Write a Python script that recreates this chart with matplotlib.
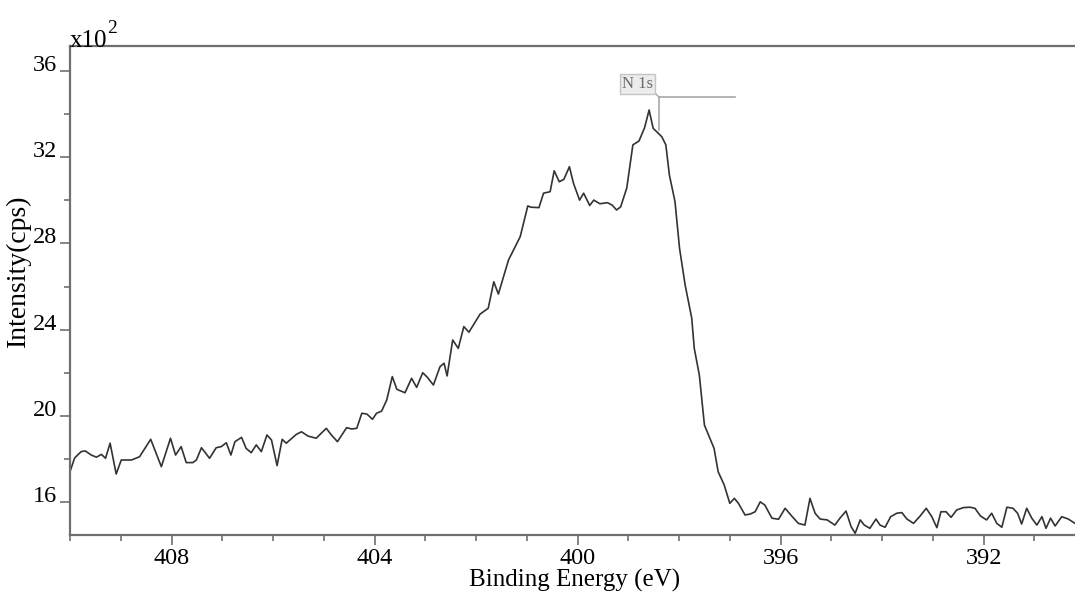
import matplotlib
matplotlib.use("Agg")
import matplotlib.pyplot as plt
from matplotlib.ticker import MultipleLocator, FuncFormatter

# ---- data (binding energy in eV, intensity in cps) ----
energy = [
    410.00, 409.91, 409.78, 409.70, 409.58, 409.48, 409.38, 409.30, 409.21, 409.09,
    408.99, 408.79, 408.63, 408.41, 408.20, 408.02, 407.92, 407.81, 407.71, 407.58,
    407.51, 407.41, 407.25, 407.12, 407.02, 406.92, 406.83, 406.75, 406.62, 406.53,
    406.43, 406.33, 406.23, 406.12, 406.03, 405.92, 405.82, 405.74, 405.54, 405.44,
    405.31, 405.15, 404.95, 404.85, 404.73,
    404.55, 404.45, 404.35, 404.25, 404.15, 404.04, 403.96, 403.86, 403.76, 403.65,
    403.56, 403.40, 403.27, 403.17, 403.05, 402.96, 402.84, 402.71, 402.63, 402.57,
    402.46, 402.35, 402.24, 402.14, 401.92, 401.76, 401.65, 401.56, 401.36, 401.13,
    400.98, 400.92, 400.76, 400.67, 400.54, 400.46, 400.36, 400.27, 400.16, 400.08,
    399.96, 399.88, 399.76, 399.68, 399.56, 399.41, 399.32, 399.23, 399.15, 399.03,
    398.91, 398.79, 398.68, 398.59, 398.51, 398.44, 398.34, 398.26, 398.19, 398.08,
    397.99, 397.88, 397.75, 397.70, 397.60, 397.50, 397.42, 397.31, 397.23, 397.11,
    397.00, 396.91, 396.83, 396.70, 396.60, 396.50, 396.40, 396.31, 396.17, 396.04,
    395.91, 395.78, 395.65, 395.52, 395.42, 395.32, 395.22, 395.08, 394.93, 394.83,
    394.71, 394.61, 394.53, 394.43, 394.35, 394.24, 394.12, 394.04, 393.94, 393.83,
    393.71, 393.61, 393.51, 393.38, 393.25, 393.13, 393.02, 392.92, 392.84, 392.74,
    392.64, 392.53, 392.40, 392.27, 392.17, 392.06, 391.94, 391.84, 391.74, 391.64,
    391.54, 391.42, 391.33, 391.25, 391.15, 391.05, 390.95, 390.85, 390.77, 390.68,
    390.59, 390.46, 390.33, 390.20,
]
intensity = [
    1741, 1804, 1834, 1837, 1818, 1808, 1821, 1803, 1873, 1730,
    1795, 1795, 1810, 1891, 1764, 1896, 1818, 1857, 1783, 1783,
    1795, 1852, 1803, 1852, 1857, 1875, 1818, 1880, 1900, 1849,
    1829, 1865, 1834, 1911, 1888, 1769, 1891, 1873, 1914, 1926,
    1906, 1896, 1942, 1911, 1880,
    1945, 1939, 1942, 2012, 2008, 1984, 2012, 2022, 2073, 2182,
    2123, 2107, 2174, 2132, 2200, 2179, 2143, 2228, 2244, 2185,
    2352, 2313, 2414, 2388, 2472, 2499, 2622, 2565, 2723, 2831,
    2974, 2968, 2966, 3033, 3040, 3137, 3086, 3097, 3156, 3079,
    3001, 3033, 2976, 3001, 2984, 2989, 2978, 2955, 2970, 3057,
    3257, 3275, 3336, 3419, 3334, 3318, 3295, 3257, 3117, 2994,
    2777, 2607, 2453, 2313, 2189, 1957, 1911, 1849, 1741, 1679,
    1594, 1617, 1594, 1540, 1544, 1555, 1601, 1586, 1525, 1520,
    1571, 1535, 1501, 1493, 1617, 1548, 1521, 1517, 1493, 1525,
    1558, 1486, 1455, 1517, 1493, 1478, 1521, 1493, 1483, 1532,
    1548, 1551, 1521, 1501, 1535, 1571, 1532, 1481, 1555, 1555,
    1529, 1563, 1574, 1576, 1571, 1535, 1517, 1548, 1501, 1483,
    1576, 1571, 1548, 1498, 1571, 1525, 1493, 1532, 1478, 1525,
    1489, 1532, 1521, 1501,
]

x_ticks = [408, 404, 400, 396, 392]
y_ticks = [1600, 2000, 2400, 2800, 3200, 3600]
y_scale = 100          # axis shows values x10^2
peak_label = "N 1s"
peak_energy = 398.39   # position of the peak marker

SERIF = ["Liberation Serif", "DejaVu Serif"]
AXIS_GRAY = "#6f6f6f"
MARK_GRAY = "#a8a8a8"

fig = plt.figure(figsize=(10.75, 5.99), dpi=100)
ax = fig.add_axes([70 / 1075, 64 / 599, 1010 / 1075, 489 / 599])

ax.plot(energy, intensity, color="#333333", lw=1.2)

ax.set_xlim(410, 390.1)
ax.set_ylim(1447, 3716)

ax.xaxis.set_minor_locator(MultipleLocator(1))
ax.set_xticks(x_ticks)
ax.yaxis.set_minor_locator(MultipleLocator(200))
ax.set_yticks(y_ticks)
ax.yaxis.set_major_formatter(FuncFormatter(lambda v, p: f"{v / y_scale:.0f}"))

ax.tick_params(axis="both", which="major", direction="out", length=7.5, width=1.2,
               color=AXIS_GRAY, labelsize=17.5, pad=2)
ax.tick_params(axis="both", which="minor", direction="out", length=4.5, width=1.2,
               color=AXIS_GRAY)
for lab in ax.get_xticklabels() + ax.get_yticklabels():
    lab.set_family(SERIF)
for lab in ax.get_yticklabels():
    lab.set_verticalalignment("baseline")

for side in ("left", "top", "bottom"):
    ax.spines[side].set_color(AXIS_GRAY)
    ax.spines[side].set_linewidth(1.6)
ax.spines["right"].set_visible(False)

ax.set_xlabel("Binding Energy (eV)", family=SERIF, fontsize=18, labelpad=0)
ax.set_ylabel("Intensity(cps)", family=SERIF, fontsize=20)
ax.yaxis.set_label_coords(-0.039, 0.54)

# multiplier label
ax.text(0.0, 0.998, "x10", transform=ax.transAxes, ha="left", va="baseline",
        family=SERIF, fontsize=18)
ax.text(0.0366, 1.026, "2", transform=ax.transAxes, ha="left", va="baseline",
        family=SERIF, fontsize=14)

# peak marker
top_y = 3478
ax.plot([peak_energy, peak_energy], [3326, top_y], color=MARK_GRAY, lw=1.2)
ax.plot([peak_energy, 396.90], [top_y, top_y], color=MARK_GRAY, lw=1.2)
ax.plot([peak_energy, peak_energy + 0.085], [top_y, top_y + 20], color=MARK_GRAY, lw=1.0)
ax.text(peak_energy + 0.12, top_y + 24, peak_label, ha="right", va="bottom",
        family=SERIF, fontsize=12, color="#6a6a6a",
        bbox=dict(boxstyle="square,pad=0.1", fc="#ececec", ec="#c4c4c4", lw=1.0))

fig.savefig("out.png", dpi=100)
